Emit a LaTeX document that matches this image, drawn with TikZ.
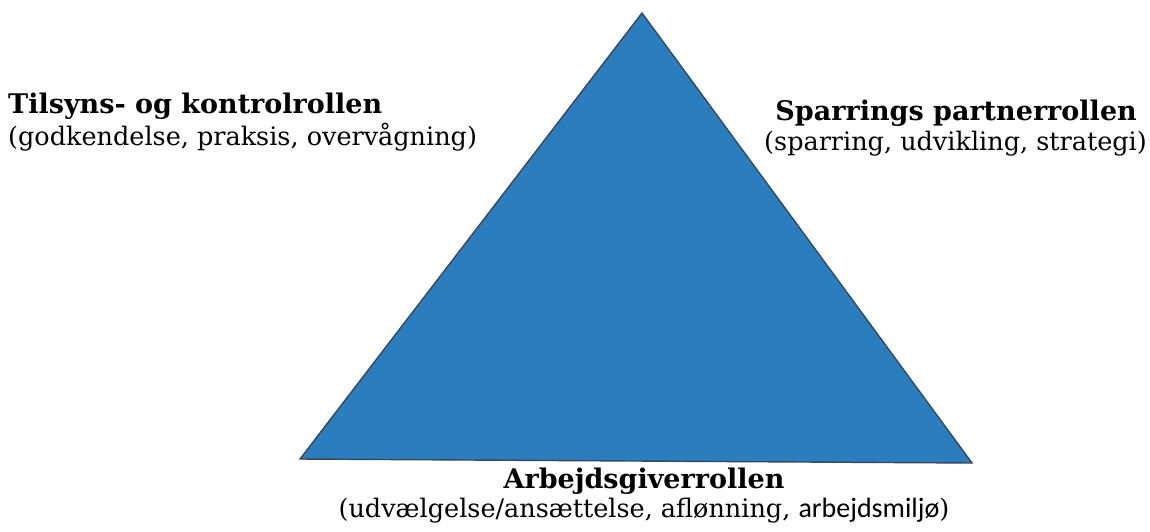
\documentclass[tikz,border=0pt]{standalone}
\usepackage{fontspec}
\setmainfont{DejaVu Serif}
\newfontfamily\calfont{Carlito}
\definecolor{trifill}{HTML}{2C7DBE}
\definecolor{triedge}{HTML}{34495E}
\begin{document}
\begin{tikzpicture}[x=1pt,y=-1pt,
  title/.style={font=\fontsize{27}{32}\selectfont\bfseries, inner sep=0pt},
  sub/.style={font=\fontsize{25.5}{30}\selectfont, inner sep=0pt}]
\useasboundingbox (0,0) rectangle (1150,531);
\coordinate (apex) at (642,13);
\coordinate (bl) at (300,459);
\coordinate (br) at (972,463);
\draw[fill=trifill, draw=triedge, line width=1.4pt, line join=miter] (apex) -- (br) -- (bl) -- cycle;
\node[title, anchor=base west] (t1) at (8,113) {Tilsyns- og kontrolrollen};
\node[sub, anchor=base west] (s1) at (8,145) {(godkendelse, praksis, overvågning)};
\node[title, anchor=base east] (t2) at (1137,120) {Sparrings partnerrollen};
\node[sub, anchor=base east] (s2) at (1147,150) {(sparring, udvikling, strategi)};
\node[title, anchor=base] (t3) at (644,488) {Arbejdsgiverrollen};
\node[sub, anchor=base] (s3) at (644,517) {(udvælgelse/ansættelse, aflønning, {\calfont\fontsize{28}{30}\selectfont arbejdsmiljø})};
\end{tikzpicture}
\end{document}
